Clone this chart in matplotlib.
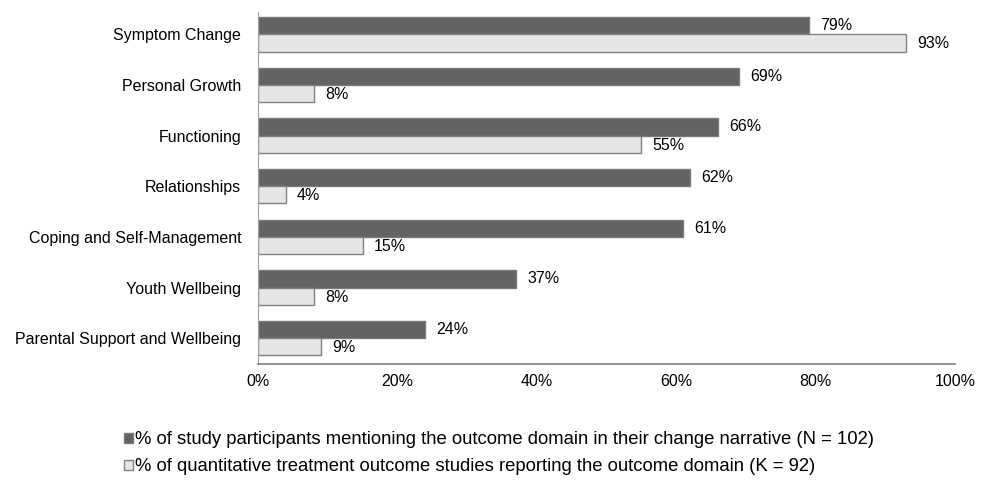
import numpy as np
import matplotlib.pyplot as plt
from matplotlib.ticker import PercentFormatter

plt.rcParams["font.family"] = ["Liberation Sans", "DejaVu Sans"]
plt.rcParams["font.size"] = 11.5

categories = [
    "Symptom Change",
    "Personal Growth",
    "Functioning",
    "Relationships",
    "Coping and Self-Management",
    "Youth Wellbeing",
    "Parental Support and Wellbeing",
]
participants = [79, 69, 66, 62, 61, 37, 24]
studies = [93, 8, 55, 4, 15, 8, 9]

label_a = "% of study participants mentioning the outcome domain in their change narrative (N = 102)"
label_b = "% of quantitative treatment outcome studies reporting the outcome domain (K = 92)"

fig = plt.figure(figsize=(9.87, 4.8), dpi=100)
ax = fig.add_axes([0.2614, 0.2417, 0.7062, 0.7333])

y = np.arange(len(categories))[::-1]
h = 0.34
ax.barh(y + h / 2, participants, height=h, color="#636363", edgecolor="#7a7a7a",
        linewidth=1, label=label_a)
ax.barh(y - h / 2, studies, height=h, color="#e6e6e6", edgecolor="#808080",
        linewidth=1, label=label_b)

for yi, v in zip(y, participants):
    ax.text(v + 1.6, yi + h / 2, f"{v}%", va="center", ha="left")
for yi, v in zip(y, studies):
    ax.text(v + 1.6, yi - h / 2 - 0.02, f"{v}%", va="center", ha="left")

ax.set_xlim(0, 100)
ax.set_ylim(-0.51, 6.44)
ax.set_yticks(y)
ax.set_yticklabels(categories)
ax.set_xticks(np.arange(0, 101, 20))
ax.xaxis.set_major_formatter(PercentFormatter(decimals=0))
ax.tick_params(axis="both", length=0)
ax.tick_params(axis="y", pad=12)
ax.tick_params(axis="x", pad=7)
for s in ["top", "right"]:
    ax.spines[s].set_visible(False)
ax.spines["left"].set_color("#a0a0a0")
ax.spines["bottom"].set_color("#808080")
ax.spines["bottom"].set_linewidth(1.2)

fig.legend(loc="upper left", bbox_to_anchor=(0.1165, 0.121), frameon=False,
           handlelength=0.45, handleheight=0.45, handletextpad=0.12, labelspacing=0.55,
           borderpad=0, fontsize=13.3)

fig.savefig("out.png", dpi=100)
